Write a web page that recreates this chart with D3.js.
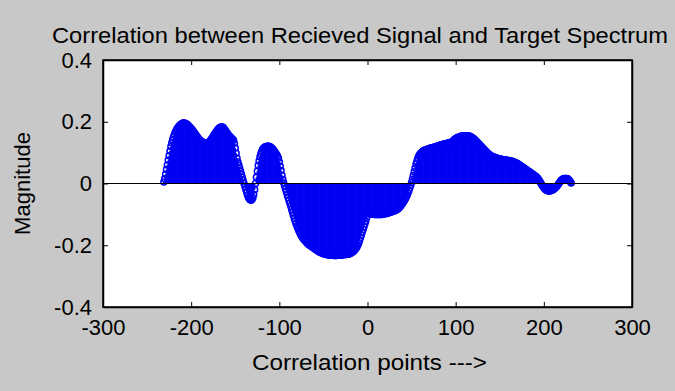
<!DOCTYPE html>
<html>
<head>
<meta charset="utf-8">
<script src="https://cdn.jsdelivr.net/npm/d3@7/dist/d3.min.js"></script>
<style>
  html, body { margin: 0; padding: 0; background: #c8c8c8; }
  svg { display: block; }
  text { font-family: "Liberation Sans", Arial, sans-serif; fill: #000; }
</style>
</head>
<body>
<svg id="chart" width="675" height="391"></svg>
<script>
// Cross-correlation lags start here and step by one.
const lagStart = -231;

// Correlation magnitude at each lag (lag -231 .. 231).
const corrValues = [
  0.005, 0.015, 0.030, 0.045, 0.060, 0.075, 0.090, 0.105, 0.120, 0.132,
  0.142, 0.151, 0.159, 0.166, 0.172, 0.177, 0.181, 0.185, 0.188, 0.191,
  0.193, 0.195, 0.196, 0.196, 0.195, 0.194, 0.192, 0.190, 0.187, 0.184,
  0.181, 0.178, 0.175, 0.171, 0.167, 0.163, 0.159, 0.155, 0.151, 0.147,
  0.143, 0.140, 0.138, 0.136, 0.134, 0.133, 0.132, 0.131, 0.131, 0.131,
  0.131, 0.133, 0.136, 0.140, 0.144, 0.148, 0.153, 0.158, 0.162, 0.166,
  0.170, 0.174, 0.177, 0.180, 0.182, 0.183, 0.183, 0.182, 0.179, 0.175,
  0.171, 0.167, 0.163, 0.159, 0.155, 0.152, 0.149, 0.146, 0.143, 0.140,
  0.130, 0.115, 0.098, 0.082, 0.070, 0.060, 0.050, 0.040, 0.030, 0.020,
  0.010, 0.000, -0.010, -0.020, -0.030, -0.038, -0.045, -0.050, -0.053, -0.054,
  -0.052, -0.046, -0.036, -0.020, 0.000, 0.020, 0.040, 0.058, 0.073, 0.086,
  0.096, 0.104, 0.110, 0.114, 0.117, 0.119, 0.120, 0.121, 0.121, 0.121,
  0.120, 0.118, 0.116, 0.113, 0.110, 0.106, 0.102, 0.098, 0.093, 0.088,
  0.082, 0.070, 0.056, 0.042, 0.027, 0.013, 0.002, -0.008, -0.018, -0.027,
  -0.037, -0.046, -0.055, -0.064, -0.074, -0.084, -0.094, -0.104, -0.113, -0.122,
  -0.130, -0.138, -0.145, -0.152, -0.158, -0.164, -0.169, -0.174, -0.178, -0.182,
  -0.185, -0.188, -0.191, -0.194, -0.197, -0.199, -0.201, -0.203, -0.205, -0.207,
  -0.209, -0.211, -0.213, -0.215, -0.217, -0.219, -0.221, -0.223, -0.224, -0.225,
  -0.226, -0.227, -0.228, -0.229, -0.230, -0.230, -0.231, -0.231, -0.232, -0.232,
  -0.232, -0.232, -0.232, -0.233, -0.233, -0.233, -0.233, -0.232, -0.232, -0.232,
  -0.232, -0.232, -0.231, -0.231, -0.231, -0.230, -0.230, -0.230, -0.229, -0.229,
  -0.228, -0.227, -0.226, -0.224, -0.222, -0.220, -0.217, -0.214, -0.210, -0.206,
  -0.200, -0.193, -0.185, -0.176, -0.167, -0.158, -0.149, -0.140, -0.131, -0.122,
  -0.110, -0.098, -0.097, -0.097, -0.098, -0.098, -0.099, -0.099, -0.099, -0.100,
  -0.100, -0.100, -0.100, -0.100, -0.100, -0.100, -0.100, -0.100, -0.099, -0.099,
  -0.098, -0.098, -0.097, -0.097, -0.096, -0.095, -0.094, -0.093, -0.092, -0.091,
  -0.090, -0.089, -0.088, -0.087, -0.085, -0.083, -0.081, -0.078, -0.075, -0.071,
  -0.067, -0.063, -0.059, -0.054, -0.049, -0.044, -0.038, -0.031, -0.023, -0.014,
  -0.006, 0.003, 0.014, 0.026, 0.038, 0.050, 0.062, 0.072, 0.081, 0.088,
  0.093, 0.097, 0.100, 0.103, 0.105, 0.107, 0.108, 0.109, 0.110, 0.111,
  0.112, 0.113, 0.114, 0.115, 0.116, 0.117, 0.117, 0.118, 0.119, 0.120,
  0.121, 0.122, 0.123, 0.124, 0.125, 0.125, 0.126, 0.127, 0.128, 0.128,
  0.129, 0.130, 0.130, 0.131, 0.131, 0.132, 0.134, 0.136, 0.138, 0.141,
  0.143, 0.145, 0.147, 0.149, 0.150, 0.151, 0.152, 0.153, 0.154, 0.154,
  0.155, 0.155, 0.155, 0.155, 0.155, 0.154, 0.154, 0.153, 0.152, 0.150,
  0.148, 0.146, 0.144, 0.141, 0.138, 0.135, 0.132, 0.129, 0.126, 0.123,
  0.120, 0.117, 0.114, 0.111, 0.108, 0.105, 0.102, 0.099, 0.096, 0.094,
  0.092, 0.090, 0.088, 0.087, 0.086, 0.085, 0.084, 0.083, 0.082, 0.081,
  0.080, 0.079, 0.079, 0.078, 0.078, 0.077, 0.077, 0.076, 0.076, 0.075,
  0.075, 0.074, 0.074, 0.073, 0.073, 0.072, 0.071, 0.070, 0.069, 0.067,
  0.066, 0.064, 0.063, 0.061, 0.059, 0.057, 0.055, 0.053, 0.051, 0.049,
  0.047, 0.045, 0.043, 0.041, 0.039, 0.037, 0.035, 0.033, 0.031, 0.029,
  0.027, 0.025, 0.023, 0.020, 0.017, 0.013, 0.009, 0.004, -0.001, -0.006,
  -0.010, -0.014, -0.017, -0.020, -0.022, -0.023, -0.024, -0.024, -0.024, -0.023,
  -0.022, -0.021, -0.019, -0.017, -0.014, -0.011, -0.008, -0.004, 0.000, 0.004,
  0.008, 0.011, 0.013, 0.015, 0.016, 0.016, 0.016, 0.016, 0.015, 0.013,
  0.010, 0.006, 0.002
];

const xDomain = [-300, 300];
const yDomain = [-0.4, 0.4];
const xTicks = [-300, -200, -100, 0, 100, 200, 300];
const yTicks = [0.4, 0.2, 0, -0.2, -0.4];
const yTickLabels = ["0.4", "0.2", "0", "-0.2", "-0.4"];

const titleText = "Correlation between Recieved Signal and Target Spectrum";
const xLabelText = "Correlation points --->";
const yLabelText = "Magnitude";

// Layout
const plot = { left: 103, right: 632, top: 60, bottom: 307 };
const stemColor = "#0000f5";
const fontFamily = "'Liberation Sans', Arial, sans-serif";

const svg = d3.select("#chart");

const x = d3.scaleLinear().domain(xDomain).range([plot.left, plot.right]);
const y = d3.scaleLinear().domain(yDomain).range([plot.bottom, plot.top]);

const points = corrValues.map((v, i) => ({ lag: lagStart + i, value: v }));

// Figure background and axes box fill
svg.append("rect").attr("width", 675).attr("height", 391).attr("fill", "#c8c8c8");
svg.append("rect")
  .attr("x", plot.left).attr("y", plot.top)
  .attr("width", plot.right - plot.left).attr("height", plot.bottom - plot.top)
  .attr("fill", "#ffffff");

// Stems
const stems = svg.append("g");
stems.selectAll("line")
  .data(points)
  .join("line")
  .attr("x1", d => x(d.lag)).attr("x2", d => x(d.lag))
  .attr("y1", y(0)).attr("y2", d => y(d.value))
  .attr("stroke", stemColor)
  .attr("stroke-width", 1.6);

// Circle markers at stem tips
stems.selectAll("circle")
  .data(points)
  .join("circle")
  .attr("cx", d => x(d.lag))
  .attr("cy", d => y(d.value))
  .attr("r", 3)
  .attr("fill", "none")
  .attr("stroke", stemColor)
  .attr("stroke-width", 1.5);

// Baseline at zero
svg.append("line")
  .attr("x1", plot.left).attr("x2", plot.right)
  .attr("y1", y(0)).attr("y2", y(0))
  .attr("stroke", "#000").attr("stroke-width", 1.2);

// Axes with inward ticks on all four sides
const tickLen = 5;
function styleAxis(g) {
  g.selectAll("path").attr("stroke", "#000").attr("stroke-width", 1.5);
  g.selectAll(".tick line").attr("stroke", "#000").attr("stroke-width", 1);
}

const xAxisBottom = svg.append("g")
  .attr("transform", `translate(0,${plot.bottom})`)
  .call(d3.axisBottom(x).tickValues(xTicks).tickSizeInner(-tickLen).tickSizeOuter(0).tickPadding(12)
    .tickFormat(d => String(d)));
styleAxis(xAxisBottom);
xAxisBottom.selectAll("text")
  .attr("font-size", 22)
  .attr("font-family", fontFamily)
  .attr("fill", "#000");

const xAxisTop = svg.append("g")
  .attr("transform", `translate(0,${plot.top})`)
  .call(d3.axisTop(x).tickValues(xTicks).tickSizeInner(-tickLen).tickSizeOuter(0).tickFormat(""));
styleAxis(xAxisTop);

const yAxisLeft = svg.append("g")
  .attr("transform", `translate(${plot.left},0)`)
  .call(d3.axisLeft(y).tickValues(yTicks).tickSizeInner(-tickLen).tickSizeOuter(0).tickPadding(11)
    .tickFormat((d, i) => yTickLabels[i]));
styleAxis(yAxisLeft);
yAxisLeft.selectAll("text")
  .attr("font-size", 22)
  .attr("font-family", fontFamily)
  .attr("fill", "#000");

const yAxisRight = svg.append("g")
  .attr("transform", `translate(${plot.right},0)`)
  .call(d3.axisRight(y).tickValues(yTicks).tickSizeInner(-tickLen).tickSizeOuter(0).tickFormat(""));
styleAxis(yAxisRight);

// Box outline
svg.append("rect")
  .attr("x", plot.left).attr("y", plot.top)
  .attr("width", plot.right - plot.left).attr("height", plot.bottom - plot.top)
  .attr("fill", "none").attr("stroke", "#000").attr("stroke-width", 1.5);

// Title and axis labels
svg.append("text")
  .attr("x", 52).attr("y", 43)
  .attr("font-size", 22)
  .attr("textLength", 616).attr("lengthAdjust", "spacingAndGlyphs")
  .text(titleText);

svg.append("text")
  .attr("x", 252).attr("y", 370)
  .attr("font-size", 22)
  .attr("textLength", 235).attr("lengthAdjust", "spacingAndGlyphs")
  .text(xLabelText);

svg.append("text")
  .attr("transform", `translate(30,${(plot.top + plot.bottom) / 2}) rotate(-90)`)
  .attr("text-anchor", "middle")
  .attr("font-size", 22)
  .text(yLabelText);
</script>
</body>
</html>
